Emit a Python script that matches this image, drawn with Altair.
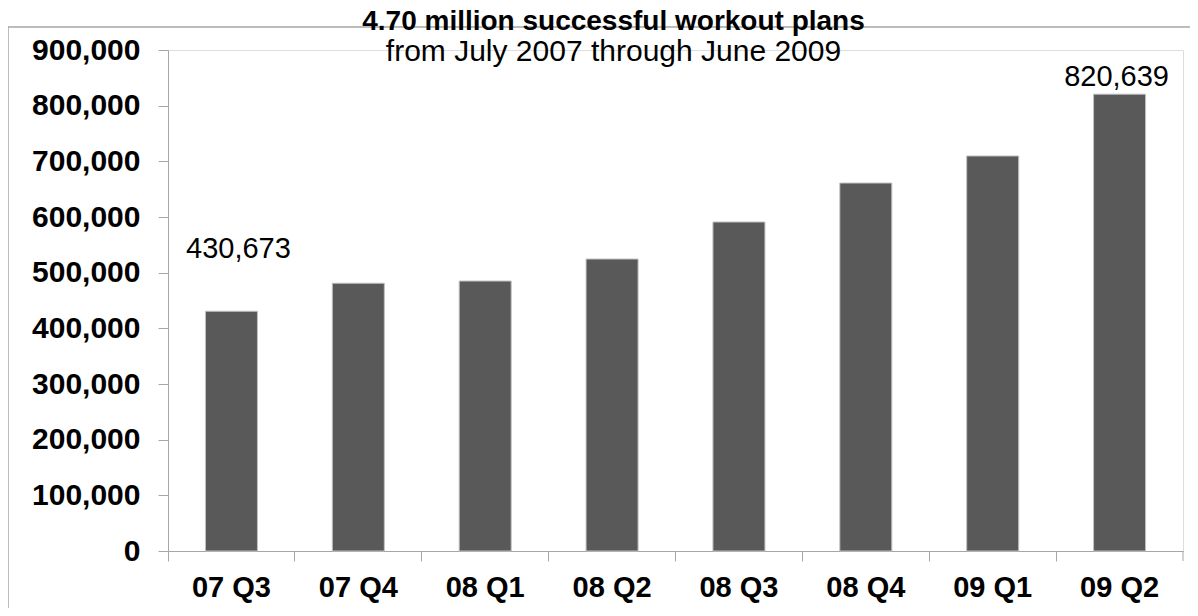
import altair as alt
import pandas as pd

quarters = ["07 Q3", "07 Q4", "08 Q1", "08 Q2", "08 Q3", "08 Q4", "09 Q1", "09 Q2"]
plans = [430673, 481000, 485000, 524500, 591000, 661000, 709600, 820639]
y_ticks = [0, 100000, 200000, 300000, 400000, 500000, 600000, 700000, 800000, 900000]
title_line1 = "4.70 million successful workout plans"
title_line2 = "from July 2007 through June 2009"

FONT = "Liberation Sans"
W, H = 1015, 501
GRAY = "#a6a6a6"

df = pd.DataFrame({"quarter": quarters, "plans": plans})
df["label"] = df["plans"].map(lambda v: f"{v:,}")

x_enc = alt.X(
    "quarter:N",
    sort=quarters,
    title=None,
    scale=alt.Scale(paddingInner=0, paddingOuter=0),
    axis=alt.Axis(
        labelAngle=0,
        labelFont=FONT,
        labelFontSize=29,
        labelFontWeight="bold",
        labelColor="black",
        labelPadding=12,
        bandPosition=0,
        tickSize=10,
        tickColor=GRAY,
        domainColor=GRAY,
        grid=False,
    ),
)
y_enc = alt.Y(
    "plans:Q",
    title=None,
    scale=alt.Scale(domain=[0, 900000], nice=False),
    axis=alt.Axis(
        values=y_ticks,
        format=",.0f",
        labelFont=FONT,
        labelFontSize=30,
        labelFontWeight="bold",
        labelColor="black",
        labelPadding=18,
        tickSize=10,
        tickColor=GRAY,
        domainColor=GRAY,
        grid=False,
    ),
)

base = alt.Chart(df)
bars = base.mark_bar(size=52, color="#595959", stroke="#c0c0c0", strokeWidth=1).encode(x=x_enc, y=y_enc)

first_label = base.transform_filter(alt.datum.quarter == "07 Q3").mark_text(
    font=FONT, fontSize=29, color="black", dy=-53, dx=7, baseline="alphabetic"
).encode(x=alt.X("quarter:N", sort=quarters), y="plans:Q", text="label:N")

last_label = base.transform_filter(alt.datum.quarter == "09 Q2").mark_text(
    font=FONT, fontSize=29, color="black", dy=-8, dx=-3, baseline="alphabetic"
).encode(x=alt.X("quarter:N", sort=quarters), y="plans:Q", text="label:N")

one = pd.DataFrame({"a": [0]})
frame_top = alt.Chart(one).mark_rule(color=GRAY, strokeWidth=1.5).encode(
    x=alt.value(-160), x2=alt.value(1100), y=alt.value(-23)
)
frame_left = alt.Chart(one).mark_rule(color=GRAY, strokeWidth=1.5).encode(
    x=alt.value(-160), y=alt.value(-23), y2=alt.value(H + 80)
)
end_tick = alt.Chart(one).mark_rule(color=GRAY, strokeWidth=1).encode(
    x=alt.value(W), y=alt.value(H), y2=alt.value(H + 10)
)

chart = alt.layer(frame_top, frame_left, bars, first_label, last_label, end_tick).properties(
    width=W,
    height=H,
    autosize=alt.AutoSizeParams(type="none"),
    padding={"left": 160, "top": 42, "right": 7, "bottom": 57},
    title=alt.TitleParams(
        text=title_line1,
        subtitle=title_line2,
        font=FONT,
        fontSize=28,
        fontWeight="bold",
        color="black",
        subtitleFont=FONT,
        subtitleFontSize=30,
        subtitleColor="black",
        subtitlePadding=1,
        anchor="middle",
        frame="group",
        dx=-62,
        dy=23,
        offset=-18,
    ),
).configure_view(stroke=None).configure(background="white")

chart.save("out.html", embed_options={"renderer": "svg", "actions": False})
